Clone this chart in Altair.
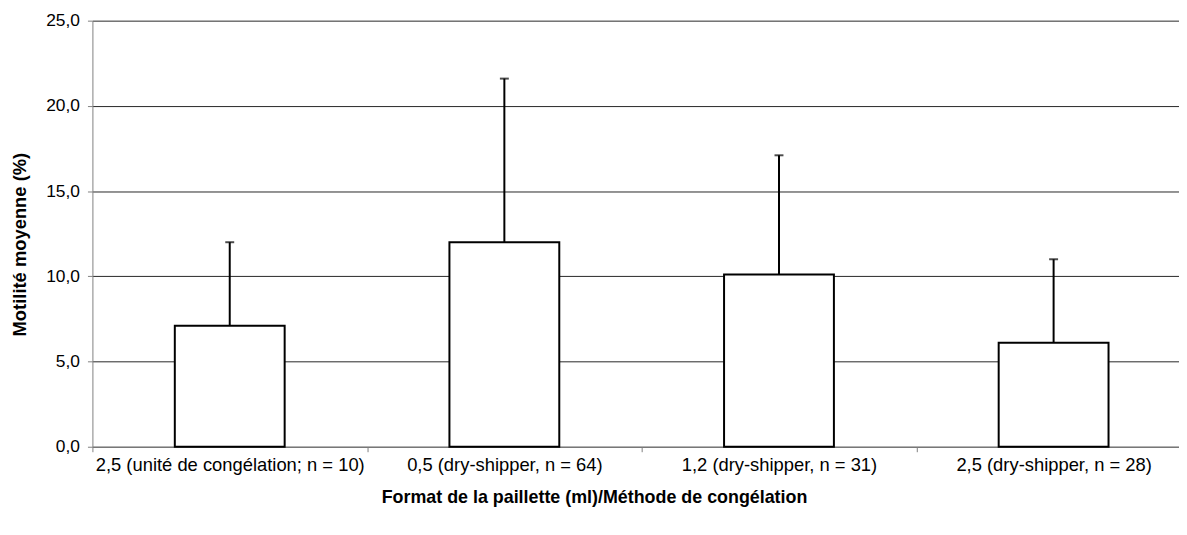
import altair as alt
import pandas as pd

categories = [
    "2,5 (unité de congélation; n = 10)",
    "0,5 (dry-shipper, n = 64)",
    "1,2 (dry-shipper, n = 31)",
    "2,5 (dry-shipper, n = 28)",
]
means = [7.1, 12.0, 10.1, 6.1]
sds = [4.9, 9.6, 7.0, 4.9]
y_ticks = [0, 5, 10, 15, 20, 25]

df = pd.DataFrame({
    "idx": list(range(len(categories))),
    "cat": categories,
    "mean": means,
    "sd": sds,
})

FONT = "Liberation Sans"
XLABEL_SIZE = 18.5
YLABEL_SIZE = 17.5
XTITLE_SIZE = 18
YTITLE_SIZE = 18.5
W = 1094
H = 429
band_px = 276.5
xmax = W / band_px

label_array = "[" + ",".join("'" + c + "'" for c in categories) + "]"

xscale = alt.Scale(domain=[0, xmax], nice=False, zero=False)
yscale = alt.Scale(domain=[0, 25], nice=False)

xaxis = alt.Axis(
    values=[0, 1, 2, 3],
    labelExpr=label_array + "[datum.value]",
    labelOffset=band_px / 2,
    labelBound=False,
    labelFlush=False,
    labelOverlap=False,
    labelLimit=0,
    labelFont=FONT,
    labelFontSize=XLABEL_SIZE,
    labelColor="#000000",
    labelPadding=4,
    tickSize=5,
    tickColor="#808080",
    domainColor="#808080",
    domainWidth=1,
    grid=False,
    title="Format de la paillette (ml)/Méthode de congélation",
    titleFont=FONT,
    titleFontSize=XTITLE_SIZE,
    titleFontWeight="bold",
    titleColor="#000000",
    titleX=505,
    titleY=51,
    titleBaseline="middle",
    titleAnchor="start",
    titleAlign="center",
)

yaxis = alt.Axis(
    values=y_ticks,
    labelExpr="replace(format(datum.value, '.1f'), '.', ',')",
    labelFont=FONT,
    labelFontSize=YLABEL_SIZE,
    labelColor="#000000",
    labelPadding=8,
    tickSize=5,
    tickColor="#808080",
    domainColor="#808080",
    domainWidth=1,
    grid=True,
    gridColor="#000000",
    gridWidth=1,
    gridOpacity=0.85,
    title="Motilité moyenne (%)",
    titleFont=FONT,
    titleFontSize=YTITLE_SIZE,
    titleFontWeight="bold",
    titleColor="#000000",
    titleX=-73,
    titleY=225,
    titleAngle=270,
    titleAlign="center",
    titleBaseline="middle",
    titleAnchor="start",
)

base = alt.Chart(df).transform_calculate(
    pos="datum.idx + 0.5",
    x0="datum.idx + 0.3",
    x1="datum.idx + 0.7",
    upper="datum.mean + datum.sd",
)

bars = base.mark_bar(fill="white", stroke="black", strokeWidth=2).encode(
    x=alt.X("x0:Q", scale=xscale, axis=xaxis),
    x2="x1:Q",
    y=alt.Y("mean:Q", scale=yscale, axis=yaxis),
    y2=alt.datum(0),
)

stems = base.mark_rule(color="black", strokeWidth=2).encode(
    x=alt.X("pos:Q", scale=xscale, axis=xaxis),
    y=alt.Y("mean:Q", scale=yscale, axis=yaxis),
    y2="upper:Q",
)

caps = base.mark_tick(color="black", orient="horizontal", size=9, thickness=2).encode(
    x=alt.X("pos:Q", scale=xscale, axis=xaxis),
    y=alt.Y("upper:Q", scale=yscale, axis=yaxis),
)

chart = alt.layer(bars, stems, caps).properties(
    width=W,
    height=H,
    autosize=alt.AutoSizeParams(type="none"),
    padding={"left": 85, "top": 11, "right": 0, "bottom": 70},
    background="white",
).configure_view(stroke=None).configure_axis(
    labelFont=FONT,
    titleFont=FONT,
)

chart.save("out.html", embed_options={"renderer": "svg", "actions": False})
